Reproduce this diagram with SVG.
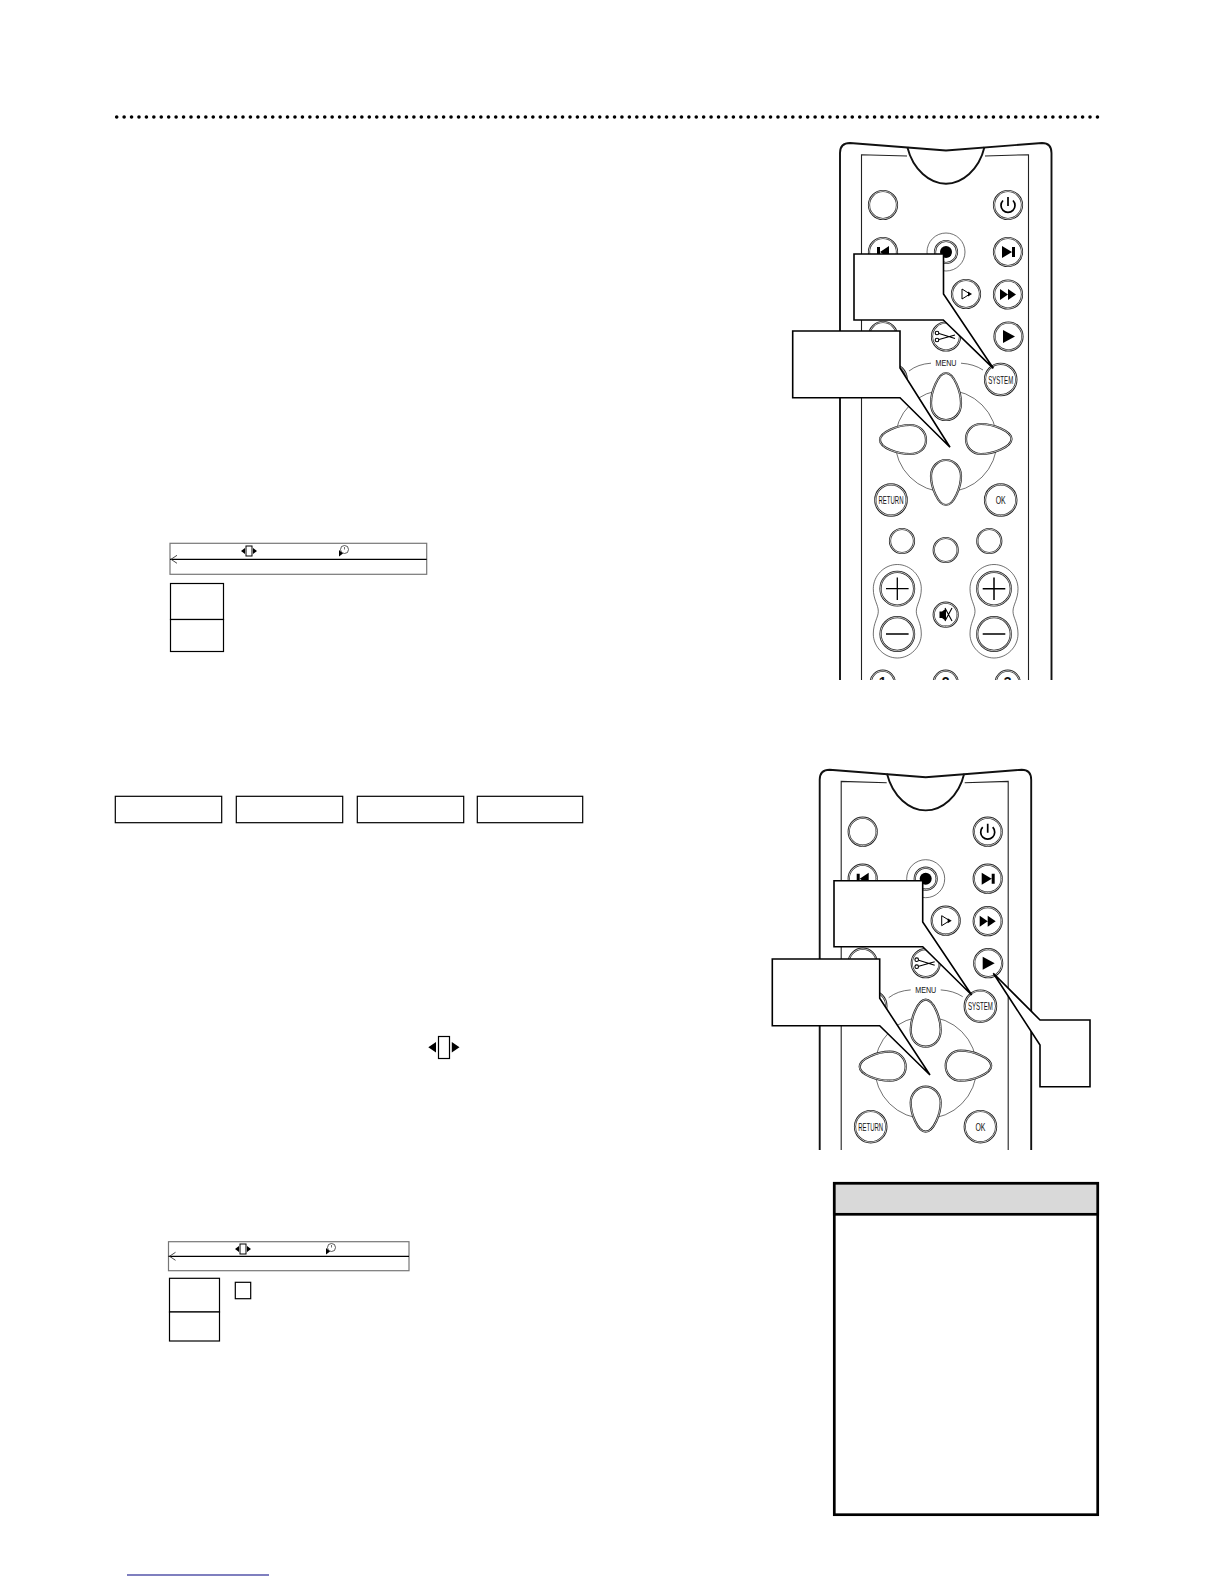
<svg xmlns="http://www.w3.org/2000/svg" width="1224" height="1584" viewBox="0 0 1224 1584">
<style>
.bg{fill:#fff}
.box{fill:#fff;stroke:#000;stroke-width:1.2}
.call{fill:#fff;stroke:#000;stroke-width:1.6;stroke-linejoin:miter}
.bar{fill:#fff;stroke:#777;stroke-width:1.2}
.rule{fill:none;stroke:#000;stroke-width:1.2}
.o{fill:#fff;stroke:#222;stroke-width:2.2}
.i{fill:none;stroke:#fff;stroke-width:.7}
.thin{fill:none;stroke:#333;stroke-width:.7}
.edge{fill:none;stroke:#111;stroke-width:1.9}
.edge2{fill:none;stroke:#222;stroke-width:1.1}
.k{fill:#000;stroke:none}
.ln{fill:none;stroke:#000;stroke-width:1.1}
.t{font-family:"Liberation Sans",Arial,sans-serif;fill:#111;text-anchor:middle}
</style>
<defs>
<clipPath id="c1"><rect x="830" y="130" width="230" height="550"/></clipPath>
<clipPath id="c2"><rect x="830" y="130" width="230" height="393.300"/></clipPath>
<g id="btn"><circle class="o" r="14"/><circle class="i" r="14"/></g>
<g id="btnS"><circle class="o" r="12"/><circle class="i" r="12"/></g>
<g id="btnL"><circle class="o" r="15.700"/><circle class="i" r="15.700"/></g>
<g id="btnV"><circle class="o" r="16.800"/><circle class="i" r="16.800"/></g>
<path id="capsule" class="thin" d="M0,-24.200C-13,-24.200 -24,-13 -24,0C-24,11 -19,16 -19,22.600C-19,29 -24,34 -24,45.300C-24,58 -13,69.300 0,69.300C13,69.300 24,58 24,45.300C24,34 19,29 19,22.600C19,16 24,11 24,0C24,-13 13,-24.200 0,-24.200Z"/>
<g id="remoteTop">
<path class="edge" d="M840,1000V153Q840,143 850,143L946,150.500L1042,143Q1051.500,143 1051.500,153V1000"/>
<path class="edge2" d="M907,156L861.500,154.700V1000M985,156L1028.500,154.700V1000"/>
<path class="edge" d="M907.300,147C913,170 930,183.700 946,183.700C962,183.700 979,170 984.500,147"/>
<use href="#btn" x="883" y="205"/>
<use href="#btn" x="1008" y="205"/>
<path fill="none" stroke="#000" stroke-width="1.700" d="M1003,200.500A7,7 0 1 0 1013,200.500M1008,197V206"/>
<use href="#btn" x="883" y="252"/>
<path class="k" d="M877,247H880V257H877ZM880,252L889,246V258Z"/>
<circle class="thin" cx="946" cy="252" r="19"/>
<circle class="o" cx="946" cy="252" r="11"/><circle class="i" cx="946" cy="252" r="11"/>
<circle class="k" cx="946" cy="252" r="6"/>
<use href="#btn" x="1008" y="252"/>
<path class="k" d="M1002,246L1012,252L1002,258ZM1012,247H1015V257H1012Z"/>
<use href="#btn" x="966" y="294"/>
<path fill="none" stroke="#000" d="M962,289L970,294L962,299Z"/><path class="k" d="M968,291.500L972,294L968,296.500Z"/>
<use href="#btn" x="1008" y="294.500"/>
<path class="k" d="M1000,289L1008,294.500L1000,300ZM1008,289L1016,294.500L1008,300Z"/>
<use href="#btn" x="883" y="336"/>
<use href="#btn" x="946" y="336.500"/>
<path class="ln" d="M939,333.500L955,338.500M939,339.500L955,335"/><circle class="ln" cx="937" cy="333" r="1.800"/><circle class="ln" cx="937" cy="340" r="1.800"/>
<use href="#btn" x="1008.500" y="336.500"/>
<path class="k" d="M1003,330L1015,336.500L1003,343Z"/>
<path class="thin" stroke-width="1" d="M909,371Q918,364 931,363.200M961,363.200Q974,364 983,370"/>
<text class="t" x="946" y="366" font-size="9" textLength="21" lengthAdjust="spacingAndGlyphs">MENU</text>
<use href="#btnL" x="891" y="379.500"/>
<use href="#btnL" x="1000.700" y="379.500"/>
<text class="t" x="1000.700" y="383.500" font-size="11" textLength="25" lengthAdjust="spacingAndGlyphs">SYSTEM</text>
<circle class="thin" cx="946" cy="441" r="51"/>
<g class="petal">
<path class="o" d="M946,373C938,373 931,392 931,403C931,414 938,420 946,420C954,420 961,414 961,403C961,392 954,373 946,373Z"/>
<path class="i" d="M946,373C938,373 931,392 931,403C931,414 938,420 946,420C954,420 961,414 961,403C961,392 954,373 946,373Z"/>
<path class="o" d="M946,505C938,505 931,487 931,476C931,467 938,460 946,460C954,460 961,467 961,476C961,487 954,505 946,505Z"/>
<path class="i" d="M946,505C938,505 931,487 931,476C931,467 938,460 946,460C954,460 961,467 961,476C961,487 954,505 946,505Z"/>
<path class="o" d="M880,440C880,432 898,425 910,425C920,425 926,432 926,440C926,448 920,454 910,454C898,454 880,448 880,440Z"/>
<path class="i" d="M880,440C880,432 898,425 910,425C920,425 926,432 926,440C926,448 920,454 910,454C898,454 880,448 880,440Z"/>
<path class="o" d="M1011.500,439C1011.500,431 993,424 981,424C972,424 966,431 966,439C966,447 972,454 981,454C993,454 1011.500,447 1011.500,439Z"/>
<path class="i" d="M1011.500,439C1011.500,431 993,424 981,424C972,424 966,431 966,439C966,447 972,454 981,454C993,454 1011.500,447 1011.500,439Z"/>
</g>
<use href="#btnL" x="891" y="500"/>
<text class="t" x="891" y="504" font-size="10.500" textLength="25" lengthAdjust="spacingAndGlyphs">RETURN</text>
<use href="#btnL" x="1000.700" y="500"/>
<text class="t" x="1000.700" y="504" font-size="10.500" textLength="10" lengthAdjust="spacingAndGlyphs">OK</text>
<use href="#btnS" x="902" y="541"/>
<use href="#btnS" x="945.700" y="550"/>
<use href="#btnS" x="989.300" y="541"/>
<use href="#capsule" x="897.300" y="588.700"/>
<use href="#capsule" x="994" y="588.700"/>
<use href="#btnV" x="897.300" y="588.700"/>
<use href="#btnV" x="897.300" y="634"/>
<use href="#btnV" x="994" y="588.700"/>
<use href="#btnV" x="994" y="634"/>
<path fill="none" stroke="#000" stroke-width="1.300" d="M886,588.700H908.600M897.300,577.400V600M886,634H908.600"/>
<path fill="none" stroke="#000" stroke-width="1.500" d="M982.700,588.700H1005.300M994,577.400V600M982.700,634H1005.300"/>
<use href="#btnS" x="945.700" y="614.700"/>
<path class="k" d="M939.500,611.500H942L946,608.500V621L942,618H939.500Z"/>
<path class="ln" d="M945,608L952,621M952,608L945,621"/>
<use href="#btnS" x="882.700" y="682.700"/>
<use href="#btnS" x="945.700" y="682.700"/>
<use href="#btnS" x="1007.700" y="682.700"/>
<text class="t" x="882.700" y="687" font-size="14" font-weight="bold">1</text>
<text class="t" x="945.700" y="687" font-size="14" font-weight="bold">2</text>
<text class="t" x="1007.700" y="687" font-size="14" font-weight="bold">3</text>
</g>
<g id="icoRemote"><rect x="-3" y="-5" width="6" height="10" fill="#fff" stroke="#000"/><path class="k" d="M-8,0L-4,-3V3ZM8,0L4,-3V3Z"/></g>
<g id="icoClock"><circle cx="1.500" cy="-1.500" r="4" fill="#fff" stroke="#333" stroke-width=".8"/><path fill="none" stroke="#333" stroke-width=".7" d="M1.500,-4V-1.500"/><path class="k" d="M-4,-1V5.500L0,2.500Z"/></g>
<path id="backArrow" fill="none" stroke="#333" stroke-width=".9" d="M6,-4L0,0L6,4"/>
</defs>
<rect class="bg" width="1224" height="1584"/>
<path id="dots" fill="none" stroke="#000" stroke-width="3.600" stroke-linecap="round" stroke-dasharray="0 7.430" d="M116.700,117H1097.500"/>

<g id="remote-1">
<use href="#remoteTop" clip-path="url(#c1)"/>
</g>
<g id="callout-1a"><path class="call" d="M854,254H943.500V294L993.300,368.300L943.300,320H854Z"/></g>
<g id="callout-1b"><path class="call" d="M792.700,331H900V368L950,447.300L900,397.700H792.700Z"/></g>

<g id="bar-1">
<rect class="bar" x="170" y="543.300" width="256.700" height="31"/>
<path class="rule" d="M170,559.300H426.700"/>
<use href="#backArrow" x="171" y="559.300"/>
<use href="#icoRemote" x="249" y="551"/>
<use href="#icoClock" x="343" y="551"/>
</g>
<g id="steps-1">
<rect class="box" x="170.500" y="583.500" width="53" height="36"/>
<rect class="box" x="170.500" y="619.500" width="53" height="32"/>
</g>

<g id="tabs">
<rect class="box" x="115.300" y="796.300" width="106.400" height="26.400"/>
<rect class="box" x="236.300" y="796.300" width="106.400" height="26.400"/>
<rect class="box" x="357.300" y="796.300" width="106.400" height="26.400"/>
<rect class="box" x="477.300" y="796.300" width="105.400" height="26.400"/>
</g>

<g id="remote-2">
<g transform="translate(-20.300 626.700)"><use href="#remoteTop" clip-path="url(#c2)"/></g>
</g>
<g id="callout-2a"><path class="call" d="M834,880.700H922.700V922L971.700,995L922.700,946.700H834Z"/></g>
<g id="callout-2b"><path class="call" d="M772.300,959H879.700V998.300L930,1075L879.700,1025.700H772.300Z"/></g>
<g id="callout-2c"><path class="call" d="M1090,1020V1086.700H1040V1045L993.300,973.300L1040,1020Z"/></g>

<g id="inline-icon">
<rect x="438.500" y="1036.500" width="11" height="22" fill="#fff" stroke="#000" stroke-width="1.200"/>
<path class="k" d="M428.300,1047.300L436,1042V1052.500ZM459.500,1047.300L451.800,1042V1052.500Z"/>
</g>

<g id="bar-2">
<rect class="bar" x="168.500" y="1241.700" width="240.500" height="29"/>
<path class="rule" d="M168.500,1256.300H409"/>
<use href="#backArrow" x="169.500" y="1256.300"/>
<use href="#icoRemote" x="243" y="1249"/>
<use href="#icoClock" x="330" y="1249"/>
</g>
<g id="steps-2">
<rect class="box" x="169.500" y="1278.300" width="50" height="33.700"/>
<rect class="box" x="169.500" y="1312" width="50" height="29"/>
<rect class="box" x="235.300" y="1282.300" width="15.400" height="16.400"/>
</g>

<g id="note">
<rect x="834.300" y="1183.300" width="263.400" height="331.400" fill="#fff" stroke="#000" stroke-width="2.700"/>
<rect x="834.300" y="1183.300" width="263.400" height="31" fill="#d9d9d9" stroke="#000" stroke-width="2.700"/>
</g>
<path id="footer-link" fill="none" stroke="#000080" stroke-width="1.200" d="M127,1575H269"/>
</svg>
